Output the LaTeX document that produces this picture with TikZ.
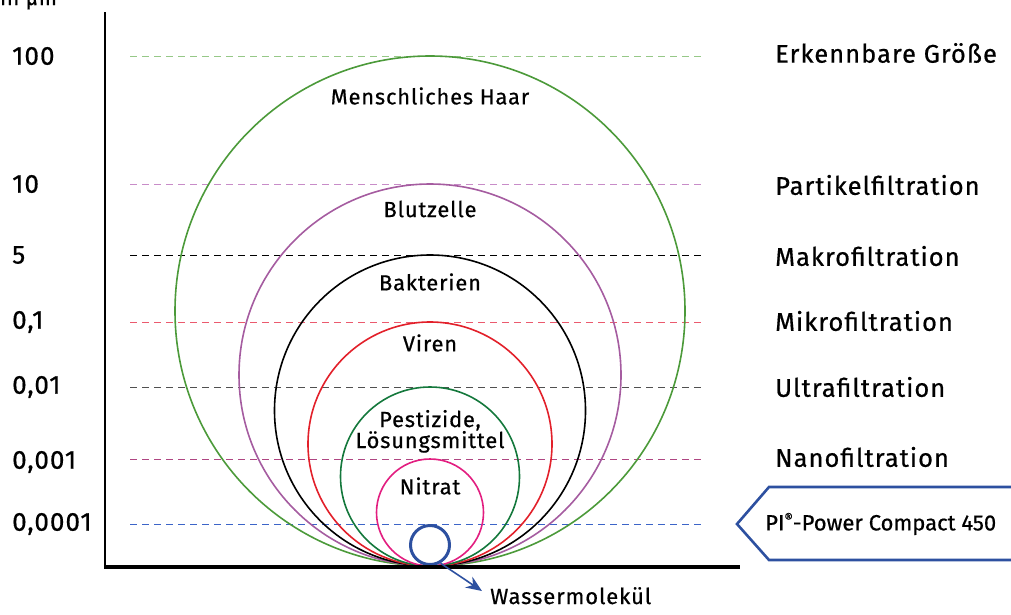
\documentclass[tikz,border=0pt]{standalone}
\usepackage{fontspec}
\setmainfont{Fira Sans}[LetterSpace=4,FakeBold=0.6]
\usetikzlibrary{arrows.meta}
\definecolor{cgreen}{RGB}{76,154,58}
\definecolor{cpurple}{RGB}{165,92,160}
\definecolor{cred}{RGB}{226,32,42}
\definecolor{cdgreen}{RGB}{20,120,60}
\definecolor{cpink}{RGB}{226,30,128}
\definecolor{cblue}{RGB}{45,80,160}
\definecolor{dgreen}{RGB}{150,200,135}
\definecolor{dpurple}{RGB}{200,140,200}
\definecolor{dred}{RGB}{235,90,110}
\definecolor{dgray}{RGB}{80,80,80}
\definecolor{dmag}{RGB}{175,70,130}
\definecolor{dblue}{RGB}{60,100,200}
\tikzset{
  ring/.style={circle, draw=#1, line width=1.6pt, inner sep=0pt},
  level/.style={draw=#1, line width=0.9pt, dash pattern=on 7pt off 5pt},
  numlbl/.style={anchor=west, font=\fontsize{26}{28}\selectfont, inner sep=0pt},
  rlbl/.style={anchor=west, font=\fontsize{25.5}{28}\selectfont, inner sep=0pt},
  clbl/.style={font=\fontsize{21.8}{21}\selectfont, inner sep=0pt, align=center},
}
\begin{document}
\begin{tikzpicture}[x=1pt,y=-1pt]
\useasboundingbox (0,0) rectangle (1011,614);
% dashed levels
\draw[level=dgreen]  (130,56) -- (705,56);
\draw[level=dpurple] (130,184) -- (705,184);
\draw[level=black]   (130,255) -- (705,255);
\draw[level=dred]    (130,322) -- (705,322);
\draw[level=dgray]   (130,387) -- (705,387);
\draw[level=dmag]    (130,459) -- (705,459);
\draw[level=dblue]   (130,524) -- (705,524);
% circles
\node[ring=cgreen,  minimum size=510pt] (haar) at (430,311) {};
\node[ring=cpurple, minimum size=382pt] (blut) at (430,375) {};
\node[ring=black,   minimum size=311pt] (bakt) at (430,410.5) {};
\node[ring=cred,    minimum size=244pt] (vir) at (430,444) {};
\node[ring=cdgreen, minimum size=179pt] (pest) at (430,476.5) {};
\node[ring=cpink,   minimum size=107pt] (nitr) at (430,512.5) {};
\node[circle, draw=cblue, line width=3pt, inner sep=0pt, minimum size=39pt] (wasser) at (430,545) {};
% axes
\draw[line width=1.8pt] (105,12) -- (105,567);
\draw[line width=3.5pt] (104,567) -- (740,567);
% circle labels
\node[clbl] (lhaar) at (430,96) {Menschliches Haar};
\node[clbl] (lblut) at (430,209) {Blutzelle};
\node[clbl] (lbakt) at (430,282) {Bakterien};
\node[clbl] (lvir)  at (430,343) {Viren};
\node[clbl, anchor=base] (lpest) at (430,427) {Pestizide,};
\node[clbl, anchor=base] (lpest2) at (430,448) {Lösungsmittel};
\node[clbl] (lnitr) at (430,486) {Nitrat};
% axis unit
\node[anchor=base west, inner sep=0pt, font=\fontsize{21}{22}\selectfont] (unit) at (0,5) {in µm};
% left values
\node[numlbl] (v1) at (12,56) {100};
\node[numlbl] (v2) at (12,184) {10};
\node[numlbl] (v3) at (12,255) {5};
\node[numlbl] (v4) at (12,322) {0,1};
\node[numlbl] (v5) at (12,387) {0,01};
\node[numlbl] (v6) at (12,462) {0,001};
\node[numlbl] (v7) at (12,524) {0,0001};
% right labels
\node[rlbl] (r1) at (775,53) {Erkennbare Größe};
\node[rlbl] (r2) at (775,185) {Partikelfiltration};
\node[rlbl] (r3) at (775,256) {Makrofiltration};
\node[rlbl] (r4) at (775,321) {Mikrofiltration};
\node[rlbl] (r5) at (775,387) {Ultrafiltration};
\node[rlbl] (r6) at (775,457) {Nanofiltration};
% product tag
\draw[draw=cblue, line width=2.6pt, fill=white] (737,524) -- (769,487) -- (1015,487) -- (1015,560) -- (769,560) -- cycle;
\node[anchor=west, inner sep=0pt, font=\fontsize{22}{24}\selectfont\addfontfeature{LetterSpace=0}] (pi) at (765,524) {PI\raisebox{0.35em}{\fontsize{13}{14}\selectfont ®}-Power Compact 450};
% water molecule
\coordinate (wtip) at (482,591);
\draw[draw=cblue, line width=1.6pt, -{Stealth[length=16pt,width=13pt]}] (wasser.-60) -- (wtip);
\node[anchor=base west, inner sep=0pt, font=\fontsize{22}{24}\selectfont] (wl) at (490,604) {Wassermolekül};
\end{tikzpicture}
\end{document}
